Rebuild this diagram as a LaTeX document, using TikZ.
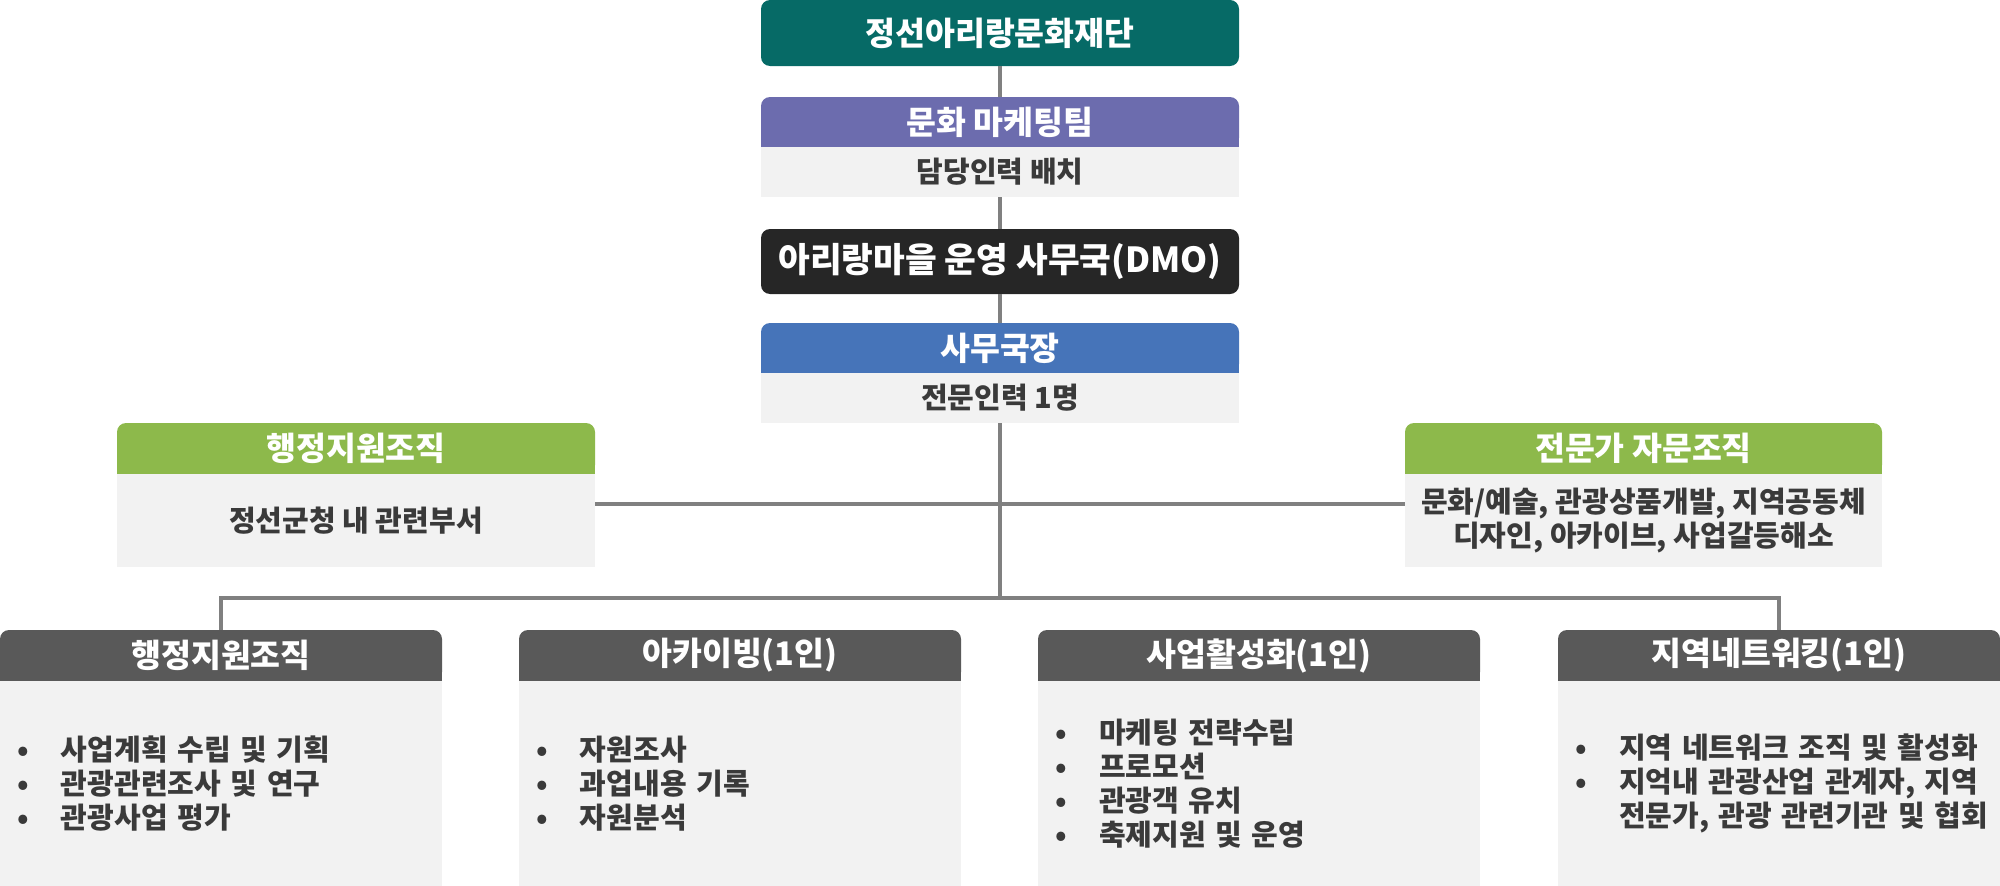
\documentclass[tikz,border=0pt]{standalone}
\usepackage{fontspec}
\setmainfont{Noto Sans CJK KR}
\definecolor{teal0}{HTML}{066A66}
\definecolor{purple0}{HTML}{6C6CAE}
\definecolor{black0}{HTML}{262626}
\definecolor{blue0}{HTML}{4674B9}
\definecolor{green0}{HTML}{8DB94B}
\definecolor{dgray0}{HTML}{595959}
\definecolor{bodygray}{HTML}{F2F2F2}
\definecolor{bodytext}{HTML}{3A3A3A}
\definecolor{linegray}{HTML}{808080}
\newcommand\hdfont{\bfseries\fontsize{32.5}{36}\selectfont}
\newcommand\bdfont{\bfseries\fontsize{29}{34}\selectfont}
\newcommand\dmofont{\bfseries\fontsize{34.5}{40}\selectfont}
\newcommand\bul{\makebox[44pt][l]{•}}
\newcommand\bulcont{\hspace*{44pt}}
\tikzset{
  head/.style={inner sep=0pt, text=white, font=\hdfont, rounded corners=9pt},
  bodyc/.style={fill=bodygray, inner sep=0pt, text=bodytext, font=\bdfont, align=center},
  bodyl/.style={fill=bodygray, inner xsep=17pt, inner ysep=0pt, text=bodytext, font=\bdfont, align=left},
  conn/.style={draw=linegray, line width=3.5pt},
}
% name, x1, x2, y1, y2, colour, text
\newcommand\tophead[7]{%
  \fill[#6] ({#2},{(#4+#5)/2}) rectangle ({#3},{#5});
  \node[head, fill=#6, minimum width={#3-#2}, minimum height={#5-#4}] (#1) at ({(#2+#3)/2},{(#4+#5)/2}) {#7};
}
\begin{document}
\begin{tikzpicture}[x=1pt,y=-1pt]
\useasboundingbox (0,0) rectangle (2000,886);
% top column
\node[head, fill=teal0, minimum width=478, minimum height=66] (top) at (1000,33) {정선아리랑문화재단};
\tophead{mkth}{761}{1239}{97}{147}{purple0}{문화 마케팅팀}
\node[bodyc, minimum width=478, minimum height=50] (mktb) at (1000,172) {담당인력 배치};
\node[head, fill=black0, font=\dmofont, minimum width=478, minimum height=65] (dmo) at (1000,261.5) {아리랑마을 운영 사무국(DMO)};
\tophead{chfh}{761}{1239}{323}{373}{blue0}{사무국장}
\node[bodyc, minimum width=478, minimum height=50] (chfb) at (1000,398) {전문인력 1명};
% side boxes
\tophead{admh}{117}{595}{423}{474}{green0}{행정지원조직}
\node[bodyc, minimum width=478, minimum height=93] (admb) at (356,520.5) {\raisebox{-3pt}{정선군청 내 관련부서}};
\tophead{exph}{1405}{1882}{423}{474}{green0}{전문가 자문조직}
\node[bodyc, minimum width=477, minimum height=93] (expb) at (1643.5,520.5) {문화/예술, 관광상품개발, 지역공동체\\디자인, 아카이브, 사업갈등해소};
% bottom boxes
\tophead{b1h}{0}{442}{630}{681}{dgray0}{행정지원조직}
\node[bodyl, minimum width=442, minimum height=205, text width=408] (b1b) at (221,783.5)
  {\bul 사업계획 수립 및 기획\\ \bul 관광관련조사 및 연구\\ \bul 관광사업 평가};
\tophead{b2h}{519}{961}{630}{681}{dgray0}{아카이빙(1인)}
\node[bodyl, minimum width=442, minimum height=205, text width=408] (b2b) at (740,783.5)
  {\bul 자원조사\\ \bul 과업내용 기록\\ \bul 자원분석};
\tophead{b3h}{1038}{1480}{630}{681}{dgray0}{사업활성화(1인)}
\node[bodyl, minimum width=442, minimum height=205, text width=408] (b3b) at (1259,783.5)
  {\bul 마케팅 전략수립\\ \bul 프로모션\\ \bul 관광객 유치\\ \bul 축제지원 및 운영};
\tophead{b4h}{1558}{2000}{630}{681}{dgray0}{지역네트워킹(1인)}
\node[bodyl, minimum width=442, minimum height=205, text width=408] (b4b) at (1779,783.5)
  {\bul\mbox{지역 네트워크 조직 및 활성화}\\ \bul\mbox{지억내 관광산업 관계자, 지역}\\ \bulcont\mbox{전문가, 관광 관련기관 및 협회}};
% connectors
\coordinate (busc) at (1000,598);
\coordinate (midy) at (1000,504);
\draw[conn] (top.south) -- (mkth.north);
\draw[conn] (mktb.south) -- (dmo.north);
\draw[conn] (dmo.south) -- (chfh.north);
\draw[conn] (chfb.south) -- (busc);
\draw[conn] (admb.east |- midy) -- (expb.west |- midy);
\draw[conn] (b1h.north) |- (busc) -| (b4h.north);
\end{tikzpicture}
\end{document}
